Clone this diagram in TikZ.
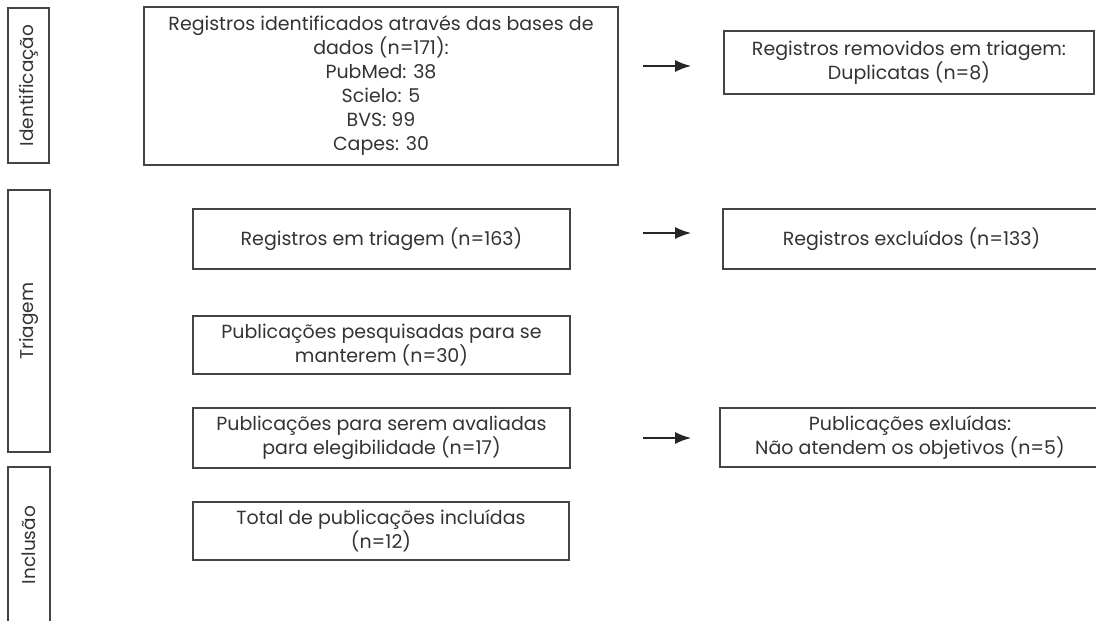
\documentclass[tikz,border=0pt]{standalone}
\usepackage{fontspec}
\setmainfont{Poppins}
\usetikzlibrary{arrows.meta}
\definecolor{txt}{HTML}{333333}
\definecolor{ln}{HTML}{444444}
\begin{document}
\begin{tikzpicture}[x=1pt,y=-1pt,
  box/.style={draw=ln, line width=1.4pt, inner sep=0pt, align=center, text=txt,
    font=\fontsize{19}{24}\selectfont},
  sidelabel/.style={rotate=90, text=txt, font=\fontsize{18.5}{24}\selectfont},
  bar/.style={draw=ln, line width=1.4pt},
  arr/.style={draw=black!85, line width=1.4pt, -{Latex[length=16pt,width=12pt]}}]
\useasboundingbox (0,0) rectangle (1096,621);
\clip (0,0) rectangle (1096,621);
% side bars
\draw[bar] (8,8) rectangle (49,163);
\node[sidelabel] (lid) at (28.5,85.5) {Identificação};
\draw[bar] (8,190) rectangle (50,452);
\node[sidelabel] (ltr) at (29,321) {Triagem};
\draw[bar] (8,640) -- (8,467) -- (50,467) -- (50,640);
\node[sidelabel] (lin) at (29,545) {Inclusão};
% main boxes
\node[box, minimum width=474pt, minimum height=158pt] (b1) at (381,86)
  {Registros identificados através das bases de\\dados (n=171):\\PubMed: 38\\Scielo: 5\\BVS: 99\\Capes: 30};
\node[box, minimum width=370pt, minimum height=63pt] (dup) at (909,62.5)
  {Registros removidos em triagem:\\Duplicatas (n=8)};
\node[box, minimum width=377pt, minimum height=60pt] (tri) at (381.5,239)
  {Registros em triagem (n=163)};
\node[box, minimum width=377pt, minimum height=60pt] (exc) at (911.5,239)
  {Registros excluídos (n=133)};
\node[box, minimum width=377pt, minimum height=58pt] (pes) at (381.5,345)
  {Publicações pesquisadas para se\\manterem (n=30)};
\node[box, minimum width=377pt, minimum height=60pt] (ava) at (381.5,438)
  {Publicações para serem avaliadas\\para elegibilidade (n=17)};
\node[box, minimum width=380pt, minimum height=59pt] (exl) at (910,437.5)
  {Publicações exluídas:\\Não atendem os objetivos (n=5)};
\node[box, minimum width=376pt, minimum height=58pt] (tot) at (381,531)
  {Total de publicações incluídas\\(n=12)};
% arrows
\coordinate (a1s) at (643,66);  \coordinate (a1e) at (691,66);
\coordinate (a2s) at (643,233); \coordinate (a2e) at (691,233);
\coordinate (a3s) at (643,438); \coordinate (a3e) at (691,438);
\draw[arr] (a1s) -- (a1e);
\draw[arr] (a2s) -- (a2e);
\draw[arr] (a3s) -- (a3e);
\end{tikzpicture}
\end{document}
